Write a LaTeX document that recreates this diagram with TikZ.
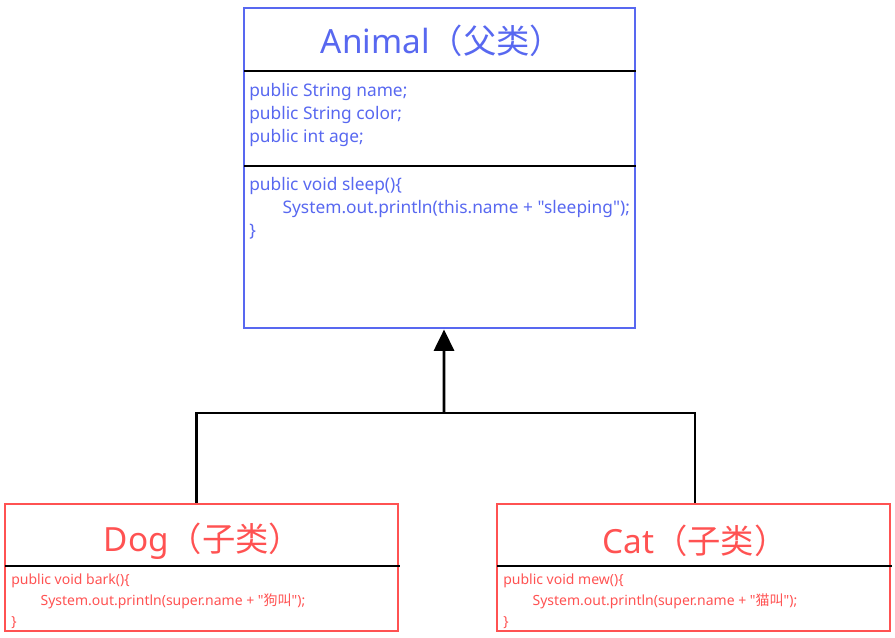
\documentclass[tikz,border=0pt]{standalone}
\usepackage{fontspec}
\setmainfont{Noto Sans}[Ligatures=TeXOff]
\newfontfamily\cjk{Noto Sans CJK SC}
\usetikzlibrary{arrows.meta,positioning}
\definecolor{parentblue}{RGB}{88,104,240}
\definecolor{childred}{RGB}{255,82,82}
\tikzset{
    parent box/.style={
        draw=parentblue,
        line width=2.2pt,
        minimum width=293.25pt,
        minimum height=240pt,
        inner sep=0pt
    },
    child box/.style={
        draw=childred,
        line width=2.2pt,
        minimum width=294.75pt,
        minimum height=95.25pt,
        inner sep=0pt
    },
    class title/.style={inner sep=0pt, font=\fontsize{25}{30}\selectfont},
    parent member/.style={
        text=parentblue,
        align=left,
        inner sep=0pt,
        anchor=north west,
        font=\fontsize{13}{17.25}\selectfont
    },
    child member/.style={
        text=childred,
        align=left,
        inner sep=0pt,
        anchor=north west,
        font=\fontsize{10.5}{15.75}\selectfont
    },
    divider/.style={black, line width=2.2pt},
    inherit line/.style={black, line width=2.2pt},
    inherit arrow/.style={-{Triangle[length=16pt,width=15pt]}, black, line width=2.2pt}
}
\begin{document}
\begin{tikzpicture}[x=0.75pt,y=-0.75pt]
    \useasboundingbox (0,0) rectangle (895,637);

    % parent class
    \node[parent box] (animal) at (439.5,168) {};
    \node[class title, text=parentblue] (animaltitle) at (442,41) {Animal{\cjk （父类）}};
    \draw[divider] (244,71) -- (636,71);
    \draw[divider] (244,166) -- (636,166);
    \node[parent member] (animalfields) at (249,83) {public String name;\\public String color;\\public int age;};
    \node[parent member] (animalmethods) at (249,177) {public void sleep()\{\\\hspace*{25pt}System.out.println(this.name + "sleeping");\\\}};

    % child classes
    \node[child box] (dog) at (201.5,567.5) {};
    \node[class title, text=childred] (dogtitle) at (203,541) {Dog{\cjk （子类）}};
    \draw[divider] (5,566) -- (400,566);
    \node[child member] (dogmethods) at (11,574) {public void bark()\{\\\hspace*{22pt}System.out.println(super.name + "{\cjk 狗叫}");\\\}};

    \node[child box] (cat) at (693.5,567.5) {};
    \node[class title, text=childred] (cattitle) at (695,541) {Cat{\cjk （子类）}};
    \draw[divider] (497,566) -- (892,566);
    \node[child member] (catmethods) at (503,574) {public void mew()\{\\\hspace*{22pt}System.out.println(super.name + "{\cjk 猫叫}");\\\}};

    % inheritance
    \coordinate (joint) at (444,413);
    \draw[inherit line] ([xshift=-4.1pt]dog.north) |- ([xshift=1.1pt]cat.north |- joint) -- ([xshift=1.1pt]cat.north);
    \draw[inherit arrow] (joint) -- ([xshift=3.4pt]animal.south);
\end{tikzpicture}
\end{document}
